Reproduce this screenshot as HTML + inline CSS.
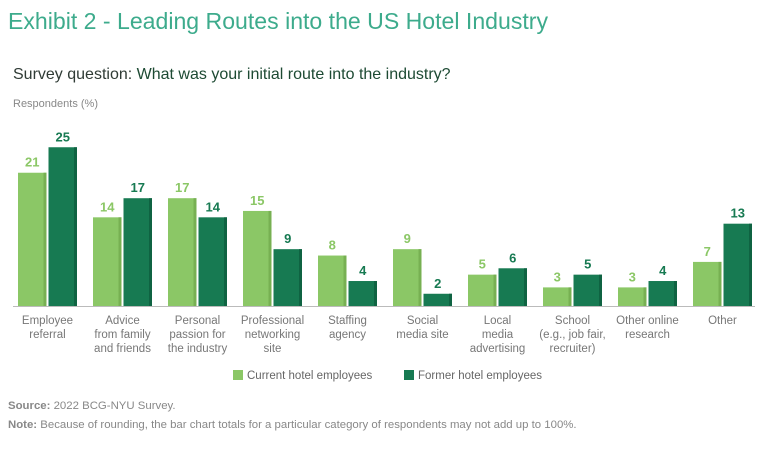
<!DOCTYPE html>
<html><head><meta charset="utf-8"><style>
body{margin:0;background:#fff;width:768px;height:444px;overflow:hidden;font-family:"Liberation Sans",sans-serif}
</style></head><body>
<svg width="768" height="444" id="chart" font-family="Liberation Sans, sans-serif">
<text x="8" y="29" font-size="23" fill="#3dab8c" textLength="540" lengthAdjust="spacingAndGlyphs">Exhibit 2 - Leading Routes into the US Hotel Industry</text>
<text x="13" y="79" font-size="16" fill="#2f3b35">Survey question: <tspan fill="#1d4a33">What was your initial route into the industry?</tspan></text>
<text x="13" y="107" font-size="11" fill="#888">Respondents (%)</text>
<g id="bars"></g>
<line x1="13" x2="755" y1="306.5" y2="306.5" stroke="#bbb" stroke-width="1"/>
<rect x="233" y="370" width="10" height="10" fill="#8bc766"/>
<text x="247" y="379" font-size="11.5" fill="#666">Current hotel employees</text>
<rect x="404" y="370" width="10" height="10" fill="#177a52"/>
<text x="418" y="379" font-size="11.5" fill="#666">Former hotel employees</text>
<text x="8" y="409" font-size="11.4" fill="#888"><tspan font-weight="bold">Source:</tspan> 2022 BCG-NYU Survey.</text>
<text x="8" y="428" font-size="11.4" fill="#888"><tspan font-weight="bold">Note:</tspan> Because of rounding, the bar chart totals for a particular category of respondents may not add up to 100%.</text>
</svg>
<script>
const categories=[["Employee","referral"],["Advice","from family","and friends"],["Personal","passion for","the industry"],["Professional","networking","site"],["Staffing","agency"],["Social","media site"],["Local","media","advertising"],["School","(e.g., job fair,","recruiter)"],["Other online","research"],["Other"]];
const currentVals=[21,14,17,15,8,9,5,3,3,7];
const formerVals=[25,17,14,9,4,2,6,5,4,13];
const NS="http://www.w3.org/2000/svg";
const g=document.getElementById('bars');
const base=306.5, unit=6.37, pitch=75, start=18, bw=28.5, gap=2;
function y(v){return base-v*unit;}
function groupX(i){return start+i*pitch;}
function mk(t,a){const e=document.createElementNS(NS,t);for(const k in a)e.setAttribute(k,a[k]);g.appendChild(e);return e;}
function bar(x,v,col,edge,tcol,name){
 const r=mk('rect',{x:x,y:y(v),width:bw,height:v*unit,fill:col});
 
 
 const s=mk('rect',{x:x+bw-3,y:y(v),width:3,height:v*unit,fill:edge});
 
 
 const t=mk('text',{x:x+bw/2,y:y(v)-6,'text-anchor':'middle','font-size':13,'font-weight':'bold',fill:tcol});
 t.textContent=v;
 
 
}
categories.forEach((c,i)=>{
 const x=groupX(i);
 bar(x,currentVals[i],'#8bc766','#77b052','#8bc766','bar-current-'+i);
 bar(x+bw+gap,formerVals[i],'#177a52','#0f6342','#177a52','bar-former-'+i);
 const t=mk('text',{x:x+bw+gap/2,y:324,'text-anchor':'middle','font-size':11.5,fill:'#777'});
 
 
 c.forEach((l,j)=>{const ts=document.createElementNS(NS,'tspan');ts.setAttribute('x',x+bw+gap/2);ts.setAttribute('dy',j?14:0);ts.textContent=l;t.appendChild(ts);});
});
</script>
</body></html>
